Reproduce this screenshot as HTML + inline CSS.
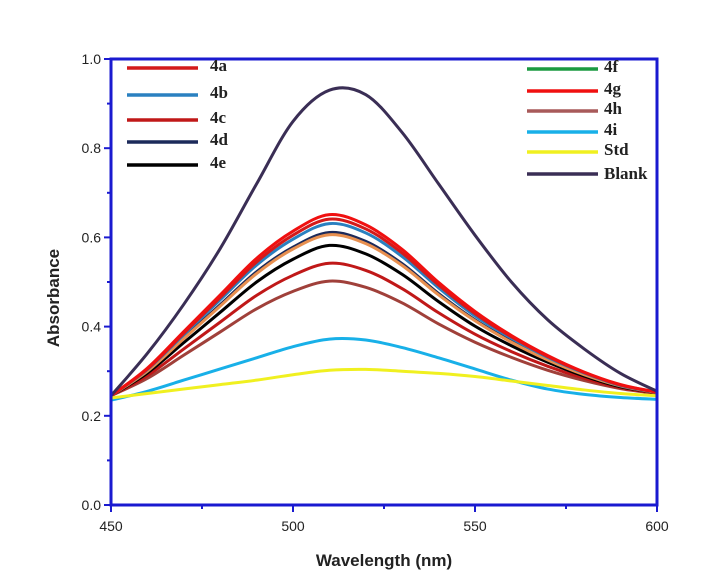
<!DOCTYPE html>
<html><head><meta charset="utf-8"><style>
body{margin:0;background:#fff;}
svg{display:block;font-family:"Liberation Sans",Arial,sans-serif;}
.lg{font-family:"Liberation Serif",serif;font-weight:bold;font-size:17px;}
</style></head><body>
<svg id="chart" width="705" height="588" viewBox="0 0 705 588" xmlns="http://www.w3.org/2000/svg">
<g id="plot"></g>
<g id="axes"></g>
<g id="legend"></g>
</svg>
<script>
const wavelengths=[450,460,470,480,490,500,510,520,530,540,550,560,570,580,590,600];
const s4a=[.245,.305,.385,.465,.545,.605,.641,.619,.565,.493,.429,.377,.333,.297,.269,.253];
const s4b=[.245,.304,.382,.460,.538,.596,.631,.610,.557,.487,.424,.374,.331,.296,.268,.253];
const s4c=[.245,.290,.350,.410,.470,.515,.542,.526,.485,.431,.383,.344,.311,.284,.263,.251];
const s4d=[.245,.301,.375,.449,.523,.578,.611,.591,.541,.474,.415,.367,.326,.293,.267,.252];
const s4e=[.245,.296,.364,.432,.500,.551,.582,.563,.517,.456,.401,.357,.320,.289,.265,.252];
const s4f=[.245,.300,.373,.446,.519,.574,.606,.586,.537,.471,.413,.365,.325,.292,.267,.252];
const s4g=[.245,.307,.389,.471,.553,.614,.651,.628,.573,.499,.434,.380,.335,.298,.270,.253];
const s4h=[.245,.284,.336,.388,.440,.479,.502,.488,.453,.406,.365,.331,.302,.279,.261,.250];
const s4i=[.235,.255,.28,.305,.33,.355,.372,.37,.353,.33,.305,.28,.26,.248,.241,.237];
const sStd=[.24,.25,.26,.27,.28,.292,.302,.304,.30,.295,.288,.278,.268,.258,.25,.245];
const sBlank=[.245,.34,.45,.575,.72,.86,.93,.92,.835,.72,.605,.50,.415,.35,.295,.255];
const xTicks=[450,500,550,600];
const yTicks=[0,0.2,0.4,0.6,0.8,1.0];
const NS="http://www.w3.org/2000/svg";
const X0=111,X1=657,Y0=505,Y1=59;
const xs=w=>X0+(w-450)/150*(X1-X0);
const ys=v=>Y0-v/1.0*(Y0-Y1);
function mk(tag,attrs,parent){const e=document.createElementNS(NS,tag);for(const k in attrs)e.setAttribute(k,attrs[k]);parent.appendChild(e);return e;}
function pathFor(vals){
  const p=wavelengths.map((w,i)=>[xs(w),ys(vals[i])]);
  let d=`M${p[0][0]},${p[0][1]}`;
  for(let i=0;i<p.length-1;i++){
    const p0=p[Math.max(0,i-1)],p1=p[i],p2=p[i+1],p3=p[Math.min(p.length-1,i+2)];
    const c1=[p1[0]+(p2[0]-p0[0])/6,p1[1]+(p2[1]-p0[1])/6];
    const c2=[p2[0]-(p3[0]-p1[0])/6,p2[1]-(p3[1]-p1[1])/6];
    d+=`C${c1[0]},${c1[1]} ${c2[0]},${c2[1]} ${p2[0]},${p2[1]}`;
  }
  return d;
}
const plot=document.getElementById('plot');
const series=[
 ['4h',s4h,'#a0403a'],['4c',s4c,'#c01818'],['4e',s4e,'#000'],['4d',s4d,'#1c2a5a'],['4f',s4f,'#e89050'],
 ['4b',s4b,'#2a80c0'],['4a',s4a,'#d41a1a'],['4g',s4g,'#f01010'],['4i',s4i,'#18b0e8'],['std',sStd,'#f0f020'],['blank',sBlank,'#3a2e55']];
series.forEach(s=>{
  const e=mk('path',{d:pathFor(s[1]),fill:'none',stroke:s[2],'stroke-width':3},plot);
  
  
});
const ax=document.getElementById('axes');
const fr=mk('rect',{x:X0,y:Y1,width:X1-X0,height:Y0-Y1,fill:'none',stroke:'#1a1ad0','stroke-width':3},ax);


xTicks.forEach(t=>{
  const x=xs(t);
  mk('line',{x1:x,y1:Y0,x2:x,y2:Y0+7,stroke:'#1a1ad0','stroke-width':2},ax);
  const l=mk('text',{x:x,y:Y0+26,'text-anchor':'middle','font-size':14,fill:'#222'},ax);
  l.textContent=t;
  
  
});
for(let t=475;t<600;t+=50){const x=xs(t);mk('line',{x1:x,y1:Y0,x2:x,y2:Y0+4,stroke:'#1a1ad0','stroke-width':2},ax);}
yTicks.forEach(t=>{
  const y=ys(t);
  mk('line',{x1:X0-7,y1:y,x2:X0,y2:y,stroke:'#1a1ad0','stroke-width':2},ax);
  const l=mk('text',{x:X0-10,y:y+5,'text-anchor':'end','font-size':14,fill:'#222'},ax);
  l.textContent=t.toFixed(1);
  
  
});
for(let i=0;i<5;i++){const y=ys(0.1+i*0.2);mk('line',{x1:X0-4,y1:y,x2:X0,y2:y,stroke:'#1a1ad0','stroke-width':2},ax);}
const xt=mk('text',{x:384,y:566,'text-anchor':'middle','font-size':17,'font-weight':'bold',fill:'#222'},ax);
xt.textContent='Wavelength (nm)';


const yt=mk('text',{x:59,y:298,'text-anchor':'middle','font-size':17,'font-weight':'bold',fill:'#222',transform:'rotate(-90 59 298)'},ax);
yt.textContent='Absorbance';


const lg=document.getElementById('legend');
const leg=[['4a','#d41a1a',127,68],['4b','#2a80c0',127,95],['4c','#c01818',127,120],['4d','#1c2a5a',127,142],['4e','#000',127,165],
 ['4f','#1a9a40',527,69],['4g','#f01010',527,91],['4h','#a85a5a',527,111],['4i','#18b0e8',527,132],['Std','#f0f020',527,152],['Blank','#3a2e55',527,174]];
leg.forEach(e=>{
  const g=mk('g',{},lg);
  
  
  mk('line',{x1:e[2],y1:e[3],x2:e[2]+71,y2:e[3],stroke:e[1],'stroke-width':3.5},g);
  const t=mk('text',{x:e[2]+(e[2]<300?83:77),y:e[3]+(e[0]==='Blank'?5:3),'class':'lg','font-size':e[0]==='Blank'?15:17,fill:'#222'},g);
  t.textContent=e[0];
});
</script>
</body></html>
